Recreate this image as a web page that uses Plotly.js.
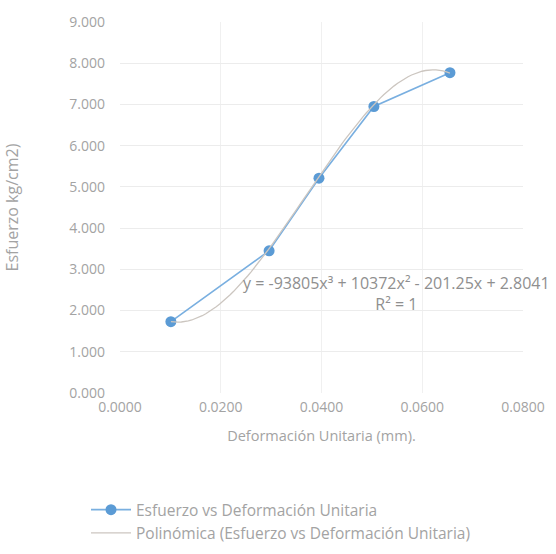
<!DOCTYPE html>
<html>
<head>
<meta charset="utf-8">
<script src="https://cdn.plot.ly/plotly-3.0.1.min.js"></script>
<style>html,body{margin:0;padding:0;background:#fff;}#chart{width:556px;height:554px;}</style>
</head>
<body>
<div id="chart"></div>
<script>
// Data
const deformacion = [0.0101, 0.0296, 0.0395, 0.0504, 0.0655];
const esfuerzo = [1.73, 3.45, 5.21, 6.95, 7.77];
// Polynomial trendline coefficients as printed on the chart (x^3, x^2, x, 1)
const trendCoef = [-93805, 10372, -201.25, 2.8041];
const xTicks = [0, 0.02, 0.04, 0.06, 0.08];
const xTickText = ["0.0000", "0.0200", "0.0400", "0.0600", "0.0800"];
const yTicks = [0, 1, 2, 3, 4, 5, 6, 7, 8, 9];
const yTickText = ["0.000", "1.000", "2.000", "3.000", "4.000", "5.000", "6.000", "7.000", "8.000", "9.000"];
const seriesName = "Esfuerzo vs Deformación Unitaria";
const trendName = "Polinómica (Esfuerzo vs Deformación Unitaria)";
const eqText = "y = -93805x³ + 10372x² - 201.25x + 2.8041<br>R² = 1";

// trendline sampled over the data range
const tx = [], ty = [];
const x0 = deformacion[0], x1 = deformacion[deformacion.length - 1];
for (let i = 0; i <= 80; i++) {
  const x = x0 + (x1 - x0) * i / 80;
  tx.push(x);
  ty.push(((trendCoef[0] * x + trendCoef[1]) * x + trendCoef[2]) * x + trendCoef[3]);
}

const fam = "Open Sans, Liberation Sans, sans-serif";
const txtColor = "#a3a3a3";

const traces = [
  {x: deformacion, y: esfuerzo, type: "scatter", mode: "lines+markers", name: seriesName,
   legendgroup: "a",
   line: {color: "#79afe0", width: 1.6}, marker: {color: "#5b9bd5", size: 11}},
  {x: tx, y: ty, type: "scatter", mode: "lines", name: trendName,
   legendgroup: "b",
   line: {color: "#ccc6c0", width: 1.3}}
];

const layout = {
  width: 556, height: 554,
  margin: {l: 120, r: 33, t: 22, b: 161, autoexpand: false},
  paper_bgcolor: "#fff", plot_bgcolor: "#fff",
  font: {family: fam, color: txtColor, size: 14},
  showlegend: true,
  legend: {orientation: "v", x: 0.155, xref: "paper", xanchor: "left",
           yref: "container", y: 0.110, yanchor: "top",
           itemwidth: 40, traceorder: "grouped", tracegroupgap: 0,
           font: {family: fam, color: txtColor, size: 15.5}},
  xaxis: {range: [0, 0.08], tickvals: xTicks, ticktext: xTickText, showgrid: true,
          gridcolor: "#f0f0f0", zeroline: false, showline: false, ticks: "",
          automargin: false,
          ticklabelstandoff: 4, tickfont: {size: 14},
          title: {text: "Deformación Unitaria (mm).", font: {size: 14.5, color: txtColor}, standoff: 15}},
  yaxis: {range: [0, 9], tickvals: yTicks, ticktext: yTickText, showgrid: true,
          gridcolor: "#ececec", zeroline: false, showline: false, ticks: "",
          automargin: false,
          ticklabelstandoff: 14, tickfont: {size: 14},
          title: {text: "Esfuerzo kg/cm2)", font: {size: 16, color: txtColor}, standoff: 46}},
  annotations: [{x: 0.0548, y: 2.42, xref: "x", yref: "y", text: eqText, showarrow: false,
                 font: {family: fam, size: 16, color: "#8f8f8f"}, align: "center"}]
};
// legend x given in paper units: place its left edge near x=86px of the page
layout.legend.x = (86 - layout.margin.l) / (layout.width - layout.margin.l - layout.margin.r);

Plotly.newPlot("chart", traces, layout, {displayModeBar: false, staticPlot: true});
</script>
</body>
</html>
